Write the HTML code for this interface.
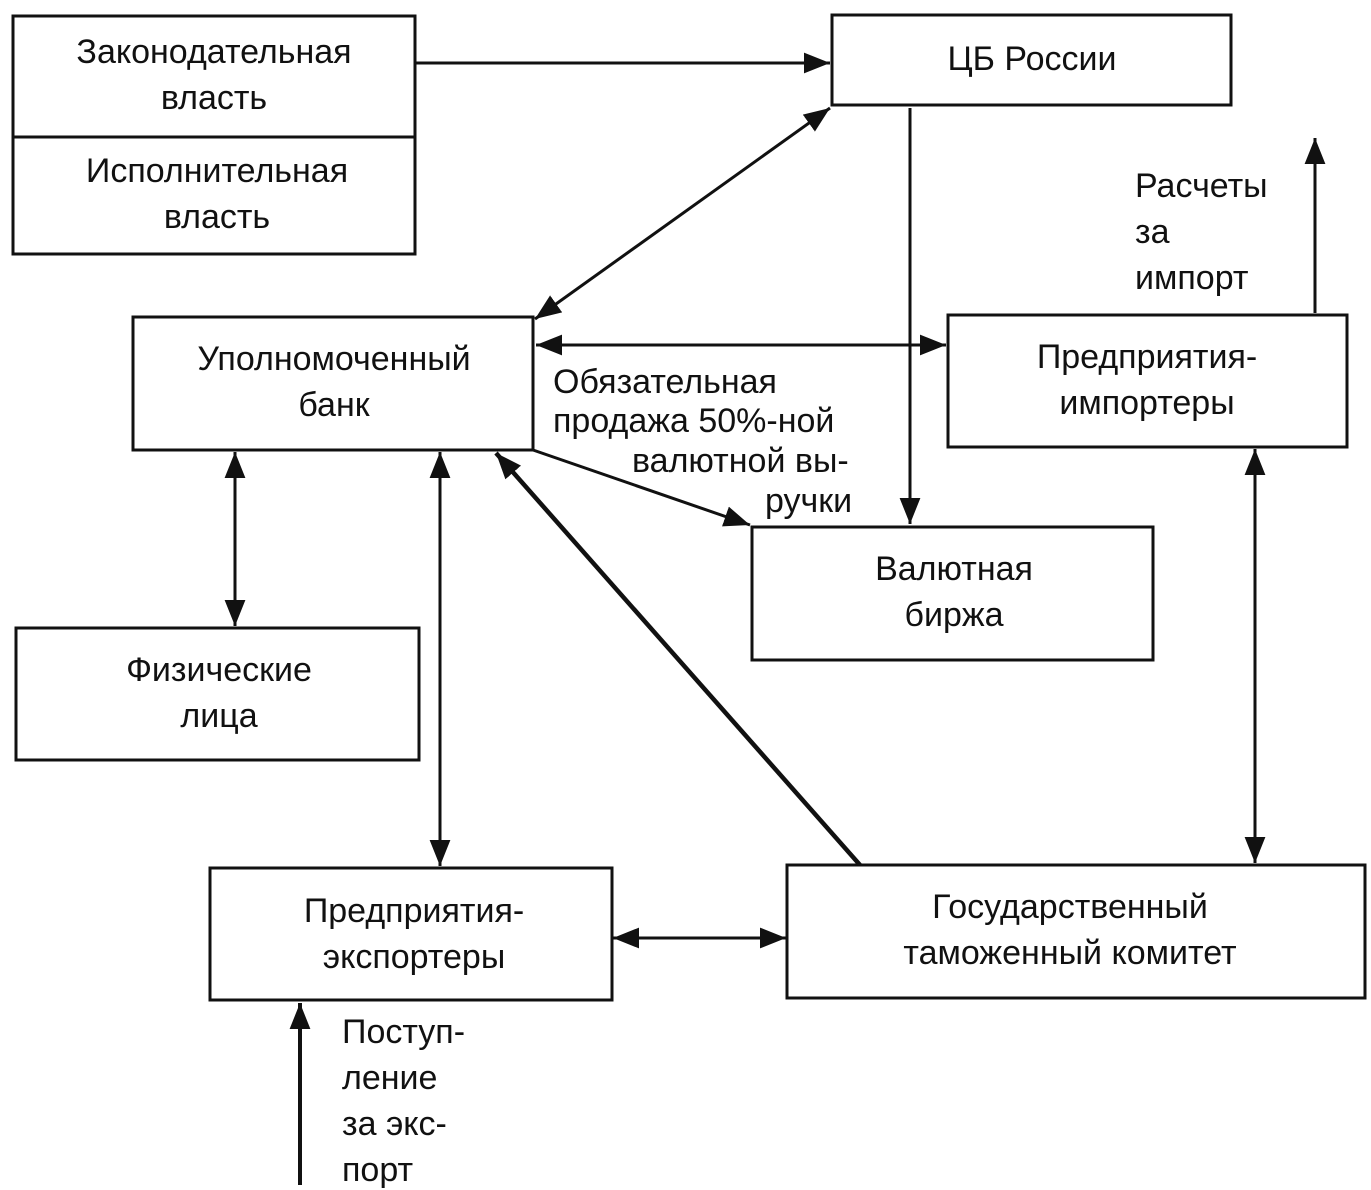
<!DOCTYPE html>
<html><head><meta charset="utf-8"><style>
html,body{margin:0;padding:0;background:#fff;}
svg{display:block;}
text{font-family:"Liberation Sans",sans-serif;font-size:34px;fill:#111;}
</style></head><body>
<svg width="1371" height="1190" viewBox="0 0 1371 1190" xmlns="http://www.w3.org/2000/svg">
<defs>
<marker id="a" viewBox="0 0 10 10" refX="10" refY="5" markerWidth="26" markerHeight="26" markerUnits="userSpaceOnUse" orient="auto-start-reverse">
<path d="M0,1 L10,5 L0,9 z" fill="#111"/></marker>
</defs>
<g fill="none" stroke="#111" stroke-width="3">
<rect x="13" y="16" width="402" height="238"/>
<line x1="13" y1="137" x2="415" y2="137"/>
<rect x="832" y="15" width="399" height="90"/>
<rect x="133" y="317" width="400" height="133"/>
<rect x="948" y="315" width="399" height="132"/>
<rect x="752" y="527" width="401" height="133"/>
<rect x="16" y="628" width="403" height="132"/>
<rect x="210" y="868" width="402" height="132"/>
<rect x="787" y="865" width="578" height="133"/>
</g>
<g stroke="#111" stroke-width="3" fill="none">
<line x1="415" y1="63" x2="830" y2="63" marker-end="url(#a)"/>
<line x1="535" y1="319" x2="830" y2="108" marker-start="url(#a)" marker-end="url(#a)"/>
<line x1="536" y1="345" x2="946" y2="345" marker-start="url(#a)" marker-end="url(#a)"/>
<line x1="910" y1="108" x2="910" y2="524" marker-end="url(#a)"/>
<line x1="533" y1="450" x2="750" y2="525" marker-end="url(#a)"/>
<line x1="235" y1="452" x2="235" y2="626" marker-start="url(#a)" marker-end="url(#a)"/>
<line x1="440" y1="452" x2="440" y2="866" marker-start="url(#a)" marker-end="url(#a)"/>
<line x1="860" y1="865" x2="496" y2="453" stroke-width="4.5" marker-end="url(#a)"/>
<line x1="613" y1="938" x2="786" y2="938" marker-start="url(#a)" marker-end="url(#a)"/>
<line x1="1255" y1="449" x2="1255" y2="863" marker-start="url(#a)" marker-end="url(#a)"/>
<line x1="1315" y1="313" x2="1315" y2="138" marker-end="url(#a)"/>
<line x1="300" y1="1185" x2="300" y2="1003" stroke-width="4" marker-end="url(#a)"/>
</g>
<g text-anchor="middle">
<text x="214" y="63">Законодательная</text>
<text x="214" y="109">власть</text>
<text x="217" y="182">Исполнительная</text>
<text x="217" y="228">власть</text>
<text x="1032" y="70">ЦБ России</text>
<text x="334" y="370">Уполномоченный</text>
<text x="334" y="416">банк</text>
<text x="1147" y="368">Предприятия-</text>
<text x="1147" y="414">импортеры</text>
<text x="954" y="580">Валютная</text>
<text x="954" y="626">биржа</text>
<text x="219" y="681">Физические</text>
<text x="219" y="727">лица</text>
<text x="414" y="922">Предприятия-</text>
<text x="414" y="968">экспортеры</text>
<text x="1070" y="918">Государственный</text>
<text x="1070" y="964">таможенный комитет</text>
</g>
<text x="553" y="393">Обязательная</text>
<text x="553" y="432">продажа 50%-ной</text>
<text x="632" y="472">валютной вы-</text>
<text x="765" y="512">ручки</text>
<text x="1135" y="197">Расчеты</text>
<text x="1135" y="243">за</text>
<text x="1135" y="289">импорт</text>
<text x="342" y="1043">Поступ-</text>
<text x="342" y="1089">ление</text>
<text x="342" y="1135">за экс-</text>
<text x="342" y="1181">порт</text>
</svg>
</body></html>
